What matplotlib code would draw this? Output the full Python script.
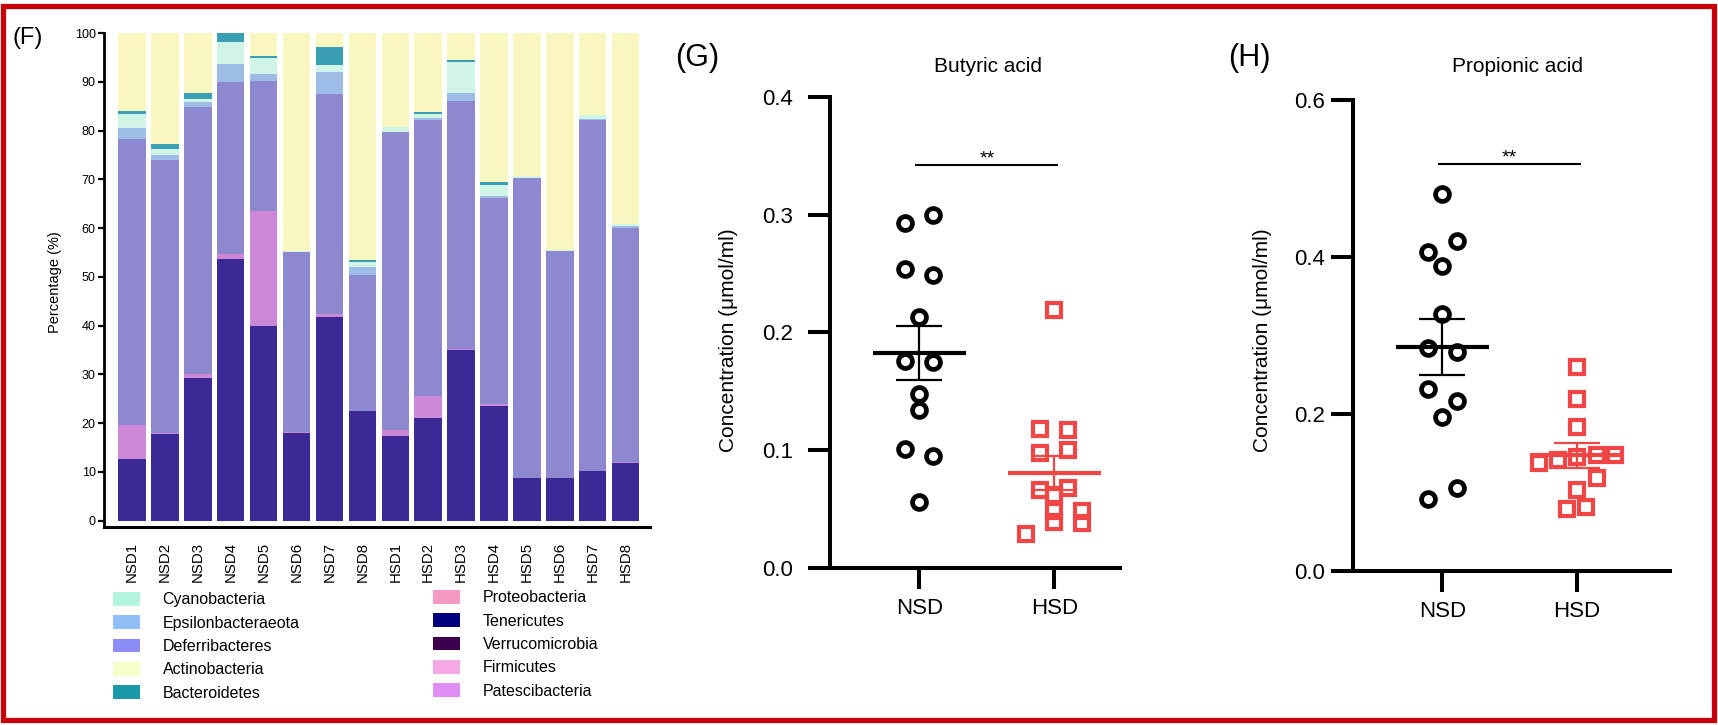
import matplotlib
matplotlib.use("Agg")
import matplotlib.pyplot as plt
import numpy as np
from matplotlib.patches import Patch, Rectangle

plt.rcParams['font.family'] = ['Liberation Sans', 'DejaVu Sans']

# ---------------- data: panel F (stacked relative abundance, %) ----------------
samples = ["NSD1", "NSD2", "NSD3", "NSD4", "NSD5", "NSD6", "NSD7", "NSD8",
           "HSD1", "HSD2", "HSD3", "HSD4", "HSD5", "HSD6", "HSD7", "HSD8"]
tenericutes = [12.7, 17.8, 29.2, 53.6, 39.9, 18.0, 41.8, 22.4,
               17.3, 21.1, 35.0, 23.6, 8.8, 8.8, 10.1, 11.8]
patescibacteria = [7.0, 0.2, 0.9, 1.1, 23.5, 0.1, 0.5, 0.1,
                   1.2, 4.4, 0.1, 0.3, 0.0, 0.0, 0.0, 0.3]
deferribacteres = [58.6, 55.9, 54.8, 35.3, 26.8, 36.9, 45.2, 27.8,
                   61.1, 56.7, 51.0, 42.2, 61.5, 46.5, 72.0, 48.0]
epsilonbacteraeota = [2.2, 1.0, 1.0, 3.6, 1.4, 0.0, 4.6, 1.7,
                      0.1, 0.4, 1.5, 0.4, 0.0, 0.0, 0.2, 0.3]
cyanobacteria = [2.8, 1.3, 0.5, 4.5, 3.3, 0.3, 1.4, 1.1,
                 1.0, 0.7, 6.4, 2.4, 0.3, 0.1, 0.9, 0.4]
bacteroidetes = [0.7, 1.0, 1.3, 1.9, 0.3, 0.0, 3.7, 0.3,
                 0.1, 0.4, 0.5, 0.6, 0.0, 0.0, 0.0, 0.0]
actinobacteria = [16.0, 22.8, 12.3, 0.0, 4.8, 44.7, 2.8, 46.6,
                  19.2, 16.3, 5.5, 30.5, 29.4, 44.6, 16.8, 39.2]

stack_series = [tenericutes, patescibacteria, deferribacteres, epsilonbacteraeota,
                cyanobacteria, bacteroidetes, actinobacteria]
stack_colors = ["#3b2996", "#cc88d6", "#8e88d0", "#9dbce6", "#d0f5e6", "#3a9fb5", "#f8f7c0"]

legend_left = ["Cyanobacteria", "Epsilonbacteraeota", "Deferribacteres", "Actinobacteria", "Bacteroidetes"]
legend_left_colors = ["#b3f5dc", "#8fbdf5", "#8c8cf5", "#f5fdc8", "#1a97a8"]
legend_right = ["Proteobacteria", "Tenericutes", "Verrucomicrobia", "Firmicutes", "Patescibacteria"]
legend_right_colors = ["#f598c2", "#00007f", "#3d004f", "#f5a8e3", "#e08cf5"]

# ---------------- data: panels G and H (umol/ml) ----------------
groups = ["NSD", "HSD"]
butyric_nsd = [0.300, 0.293, 0.254, 0.249, 0.213, 0.176, 0.175, 0.148, 0.134, 0.101, 0.095, 0.056]
butyric_nsd_dx = [0.104, -0.104, -0.104, 0.104, 0.0, -0.104, 0.104, 0.0, 0.0, -0.104, 0.104, 0.0]
butyric_hsd = [0.219, 0.118, 0.117, 0.098, 0.100, 0.066, 0.068, 0.062, 0.049, 0.049, 0.0395, 0.0387, 0.029]
butyric_hsd_dx = [0.0, -0.104, 0.104, -0.104, 0.104, -0.104, 0.104, 0.0, 0.0, 0.207, 0.0, 0.207, -0.207]

propionic_nsd = [0.480, 0.420, 0.407, 0.3885, 0.327, 0.284, 0.279, 0.2315, 0.2166, 0.1966, 0.106, 0.092]
propionic_nsd_dx = [0.0, 0.107, -0.104, 0.0, 0.0, -0.104, 0.107, -0.104, 0.107, 0.0, 0.107, -0.104]
propionic_hsd = [0.260, 0.219, 0.184, 0.148, 0.148, 0.145, 0.141, 0.138, 0.119, 0.103, 0.082, 0.079]
propionic_hsd_dx = [0.0, 0.0, 0.0, 0.149, 0.285, 0.0, -0.137, -0.278, 0.149, 0.0, 0.07, -0.07]

W, H = 1718, 725
fig = plt.figure(figsize=(W / 100, H / 100), dpi=100)


def px_rect(x0, y0, x1, y1):
    return [x0 / W, 1 - y1 / H, (x1 - x0) / W, (y1 - y0) / H]


# ---------------- panel F ----------------
ax1 = fig.add_axes(px_rect(104, 33, 650, 527))
xpos = np.arange(len(samples))
bottom = np.zeros(len(samples))
for vals, col in zip(stack_series, stack_colors):
    v = np.array(vals)
    ax1.bar(xpos, v, bottom=bottom, width=0.836, color=col, edgecolor='none')
    bottom += v
ax1.set_xlim(-0.85, 15.74)
ax1.set_ylim(-1.3, 100)
ax1.spines['top'].set_visible(False)
ax1.spines['right'].set_visible(False)
ax1.spines['left'].set_linewidth(2.0)
ax1.spines['bottom'].set_linewidth(2.2)
ax1.set_yticks(np.arange(0, 101, 10))
ax1.tick_params(axis='y', length=4.5, width=1.6, labelsize=9, pad=1.5)
ax1.set_xticks(xpos)
ax1.set_xticklabels(samples, rotation=90, fontsize=10.8)
ax1.tick_params(axis='x', length=0, pad=11)
fig.text(55 / W, 1 - 282 / H, "Percentage (%)", rotation=90, ha='center', va='center', fontsize=10.5)
fig.text(12 / W, 1 - 38 / H, "(F)", ha='left', va='center', fontsize=17)

h_left = [Patch(facecolor=c, edgecolor='none') for c in legend_left_colors]
h_right = [Patch(facecolor=c, edgecolor='none') for c in legend_right_colors]
leg_kw = dict(loc='upper left', frameon=False, fontsize=11.5, handlelength=1.7, handleheight=0.94,
              handletextpad=1.4, labelspacing=0.5, borderpad=0, borderaxespad=0)
fig.legend(h_left, legend_left, bbox_to_anchor=(113 / W, 1 - 592 / H), **leg_kw)
fig.legend(h_right, legend_right, bbox_to_anchor=(433 / W, 1 - 590 / H), **leg_kw)


# ---------------- panels G and H ----------------
def dotplot(ax, nsd, nsd_dx, hsd, hsd_dx, ymax, ystep, sig_y, label_pad):
    red = "#f04646"
    ax.plot(np.array(nsd_dx), nsd, 'o', mfc='none', mec='black', ms=10, mew=3.4,
            zorder=3, clip_on=False)
    ax.plot(1 + np.array(hsd_dx), hsd, 's', mfc='none', mec=red, ms=10, mew=3.0,
            zorder=3, clip_on=False)
    for i, (vals, col) in enumerate([(nsd, 'black'), (hsd, red)]):
        v = np.array(vals)
        m = v.mean()
        s = v.std(ddof=1) / np.sqrt(len(v))
        ax.hlines(m, i - 0.344, i + 0.344, color=col, lw=3.0, zorder=4)
        ax.hlines([m - s, m + s], i - 0.17, i + 0.17, color=col, lw=1.6, zorder=4)
        ax.vlines(i, m - s, m + s, color=col, lw=1.6, zorder=4)
    ax.hlines(sig_y, -0.03, 1.03, color='black', lw=1.5)
    ax.text(0.5, sig_y + ymax * 0.003, "**", ha='center', va='baseline', fontsize=14)
    ax.set_ylim(0, ymax)
    ax.set_yticks(np.arange(0, ymax + 1e-9, ystep))
    ax.set_yticklabels([f"{t:.1f}" for t in np.arange(0, ymax + 1e-9, ystep)])
    ax.set_xticks([0, 1])
    ax.set_xticklabels(groups)
    for sp in ['top', 'right']:
        ax.spines[sp].set_visible(False)
    for sp in ['left', 'bottom']:
        ax.spines[sp].set_linewidth(2.9)
    ax.tick_params(axis='y', length=15.6, width=2.9, labelsize=16, pad=label_pad)
    ax.tick_params(axis='x', length=15, width=2.9, labelsize=16, pad=6.5)


axG = fig.add_axes(px_rect(830, 96.7, 1120, 568.3))
axG.set_xlim((830 - 919.3) / 135, (1120 - 919.3) / 135)
dotplot(axG, butyric_nsd, butyric_nsd_dx, butyric_hsd, butyric_hsd_dx, 0.4, 0.1, 0.342, 11)
fig.text(729 / W, 1 - 340 / H, "Concentration (\u03bcmol/ml)", rotation=90, ha='center',
         va='center', fontsize=15)
fig.text(988 / W, 1 - 66.7 / H, "Butyric acid", ha='center', va='center', fontsize=15)
fig.text(675 / W, 1 - 58 / H, "(G)", ha='left', va='center', fontsize=22)

axH = fig.add_axes(px_rect(1353.3, 100, 1670, 571))
axH.set_xlim((1353.3 - 1442.3) / 134.4, (1670 - 1442.3) / 134.4)
dotplot(axH, propionic_nsd, propionic_nsd_dx, propionic_hsd, propionic_hsd_dx, 0.6, 0.2, 0.518, 5)
fig.text(1262 / W, 1 - 340 / H, "Concentration (\u03bcmol/ml)", rotation=90, ha='center',
         va='center', fontsize=15)
fig.text(1518 / W, 1 - 66.7 / H, "Propionic acid", ha='center', va='center', fontsize=15)
fig.text(1228 / W, 1 - 58 / H, "(H)", ha='left', va='center', fontsize=22)

# red frame around the whole figure
fig.patches.append(Rectangle((3 / W, 1 - 720 / H), 1711 / W, 714 / H, transform=fig.transFigure,
                             fill=False, edgecolor='#c8000a', linewidth=3.8))

fig.savefig("out.png", dpi=100)
